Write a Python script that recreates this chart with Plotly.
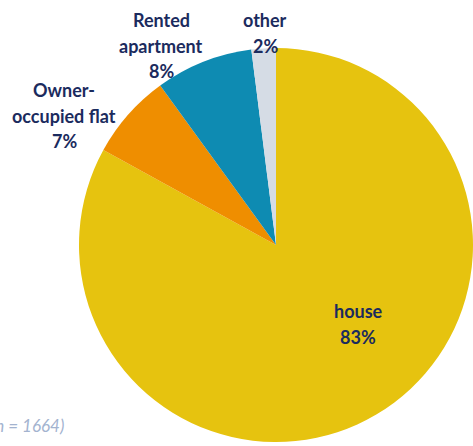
import plotly.graph_objects as go

# Housing type shares (%)
labels = ["house", "Owner-occupied flat", "Rented apartment", "other"]
label_lines = [["house"], ["Owner-", "occupied flat"], ["Rented", "apartment"], ["other"]]
values = [83, 7, 8, 2]
colors = ["#E6C30F", "#EF8E00", "#0E8BB2", "#D5DCE5"]

W, H = 473, 446
ML, MR, MT, MB = 79, 0, 48, 4
PW, PH = W - ML - MR, H - MT - MB

def px_to_paper(px, py):
    return (px - ML) / PW, (H - MB - py) / PH

# label anchor (centre x, first-line centre y) in pixels, line step
label_anchor = {
    "house": (358, 311),
    "Owner-occupied flat": (64, 90),
    "Rented apartment": (161, 20),
    "other": (265, 20),
}
LINE_STEP = 25.5

fig = go.Figure(go.Pie(
    labels=labels,
    values=values,
    sort=False,
    direction="clockwise",
    rotation=0,
    marker=dict(colors=colors, line=dict(width=0)),
    textinfo="none",
    hoverinfo="label+percent",
    showlegend=False,
))

navy = "#1B2B5E"
font = dict(family="Lato, 'Open Sans', sans-serif", size=18, color=navy)
for lab, lines, v in zip(labels, label_lines, values):
    cx, cy = label_anchor[lab]
    for i, line in enumerate(lines + [f"{v}%"]):
        x, y = px_to_paper(cx, cy + i * LINE_STEP)
        fig.add_annotation(
            x=x, y=y, xref="paper", yref="paper",
            text=f"<b>{line}</b>", showarrow=False,
            xanchor="center", yanchor="middle", font=font,
        )

fx, fy = px_to_paper(66, 425)
fig.add_annotation(
    x=fx, y=fy, xref="paper", yref="paper",
    text="<i>(n = 1664)</i>", showarrow=False,
    xanchor="right", yanchor="middle",
    font=dict(family="Lato, 'Open Sans', sans-serif", size=17, color="#A3B3CF"),
)

fig.update_layout(
    width=W, height=H,
    margin=dict(l=ML, r=MR, t=MT, b=MB),
    paper_bgcolor="white",
    plot_bgcolor="white",
)

fig.write_html("out.html")
